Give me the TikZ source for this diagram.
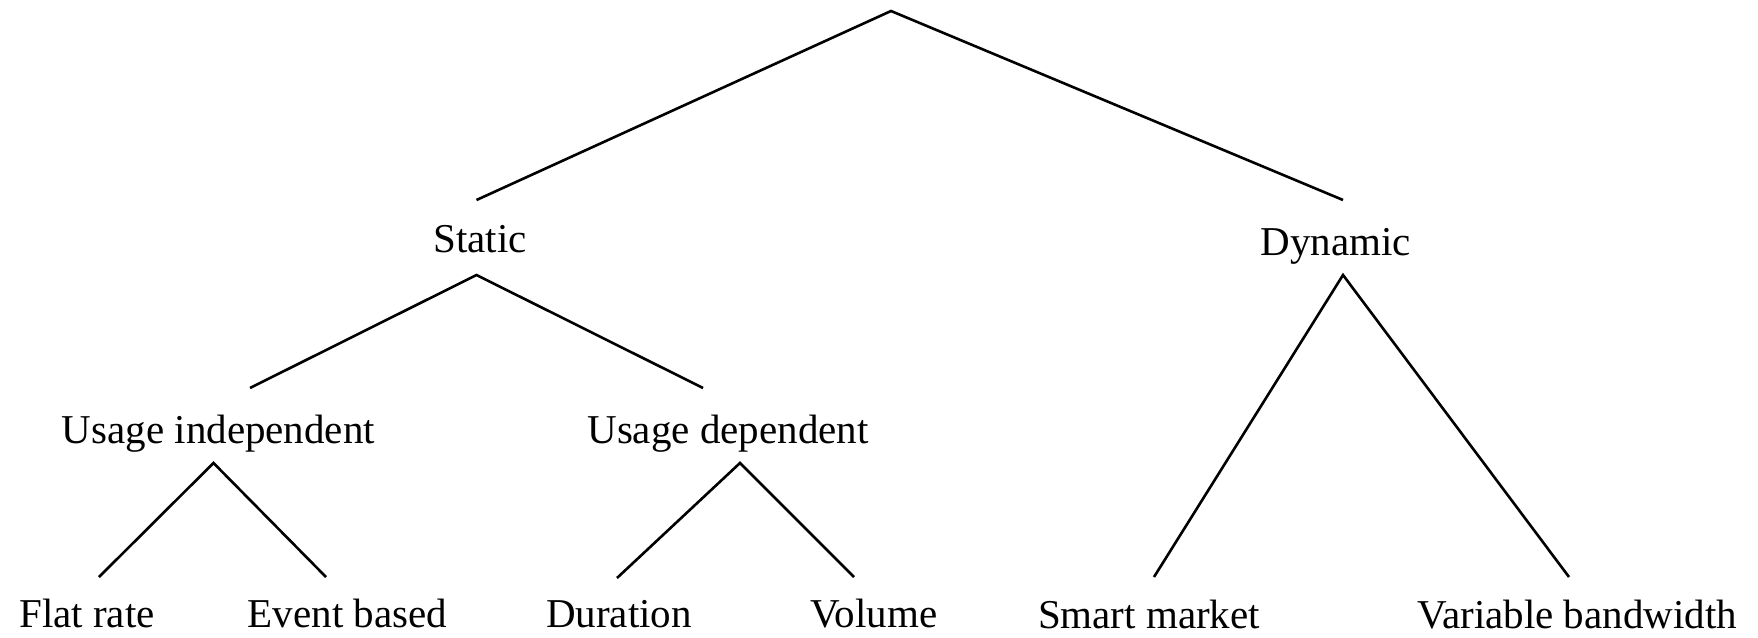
\documentclass[tikz,border=0pt]{standalone}
\usepackage{fontspec}
\setmainfont{Liberation Serif}
\begin{document}
\begin{tikzpicture}[x=1pt,y=-1pt,
  lbl/.style={anchor=base,inner sep=0pt,font=\fontsize{41}{48}\selectfont},
  edge/.style={line width=2.6pt,line cap=butt,line join=miter}]
\useasboundingbox (0,0) rectangle (1758,637);
% labels
\node[lbl] (static) at (480,252) {Static};
\node[lbl] (dynamic) at (1336,255) {Dynamic};
\node[lbl] (uind) at (218.5,443) {Usage independent};
\node[lbl] (udep) at (728,443) {Usage dependent};
\node[lbl] (flat) at (87,627) {Flat rate};
\node[lbl] (event) at (347.5,627) {Event based};
\node[lbl] (dur) at (619,627) {Duration};
\node[lbl] (vol) at (874,627) {Volume};
\node[lbl] (smart) at (1149,628) {Smart market};
\node[lbl] (varbw) at (1577,628) {Variable bandwidth};
% connector points
\coordinate (root) at (891,11);
\coordinate (static-in) at (476.5,200);
\coordinate (dyn-in) at (1343,200);
\coordinate (static-out) at (476.5,275);
\coordinate (dyn-out) at (1343,275);
\coordinate (uind-in) at (250,388);
\coordinate (udep-in) at (703,388);
\coordinate (uind-out) at (213.5,463);
\coordinate (udep-out) at (740,463);
\coordinate (flat-in) at (99,577);
\coordinate (event-in) at (326,577);
\coordinate (dur-in) at (617,578);
\coordinate (vol-in) at (854,577);
\coordinate (smart-in) at (1154,577);
\coordinate (varbw-in) at (1569,577);
% connectors
\draw[edge] (static-in) -- (root) -- (dyn-in);
\draw[edge] (uind-in) -- (static-out) -- (udep-in);
\draw[edge] (smart-in) -- (dyn-out) -- (varbw-in);
\draw[edge] (flat-in) -- (uind-out) -- (event-in);
\draw[edge] (dur-in) -- (udep-out) -- (vol-in);
\end{tikzpicture}
\end{document}
